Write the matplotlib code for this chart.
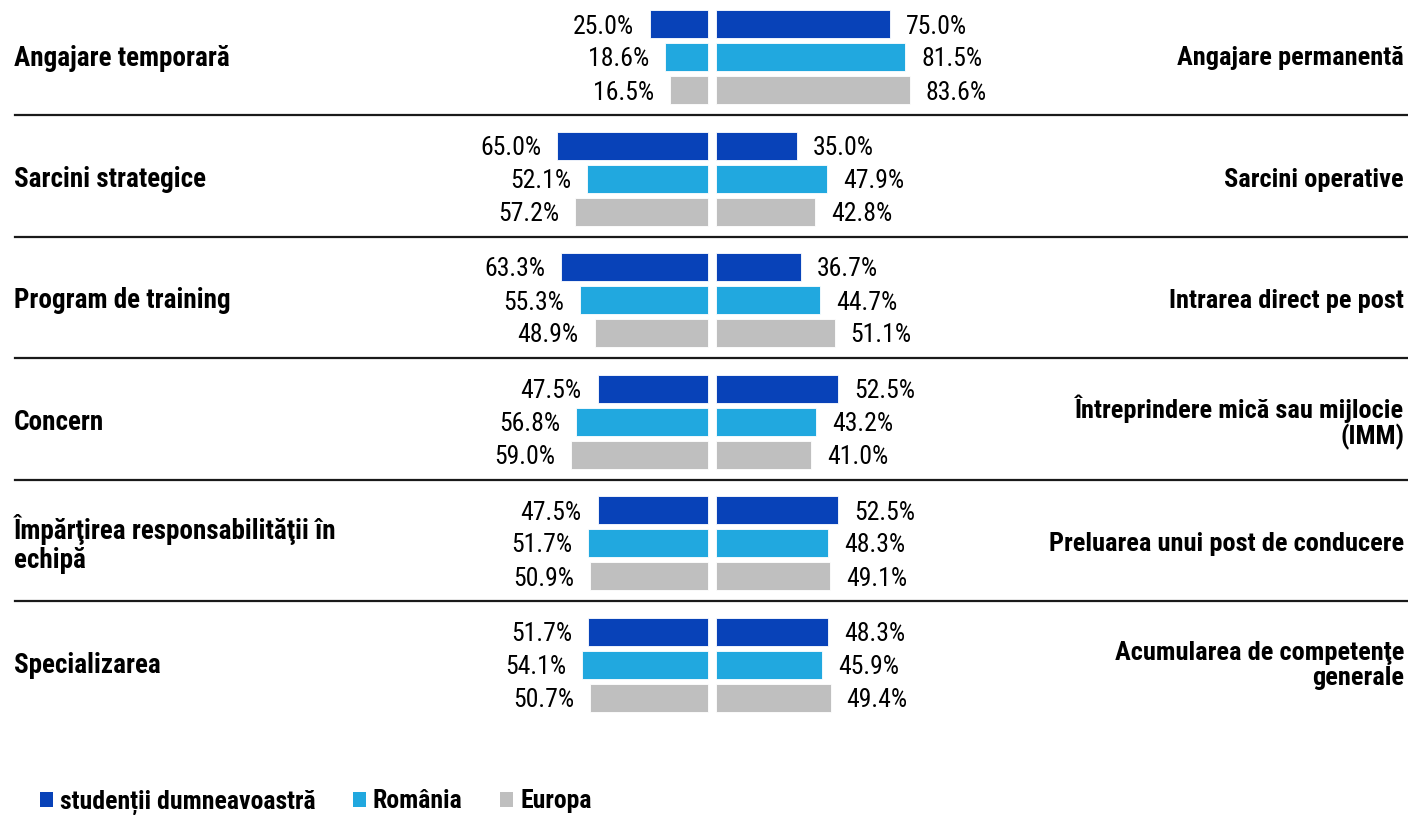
import matplotlib.pyplot as plt
from matplotlib.patches import Patch
import numpy as np

plt.rcParams['font.family'] = ['Roboto Condensed', 'DejaVu Sans']

# DATA
left_labels = ["Angajare temporară", "Sarcini strategice", "Program de training", "Concern",
               "Împărţirea responsabilităţii în\nechipă", "Specializarea"]
right_labels = ["Angajare permanentă", "Sarcini operative", "Intrarea direct pe post",
                "Întreprindere mică sau mijlocie\n(IMM)", "Preluarea unui post de conducere",
                "Acumularea de competenţe\ngenerale"]
series = ["studenții dumneavoastră", "România", "Europa"]
left_vals = [
    [25.0, 65.0, 63.3, 47.5, 47.5, 51.7],  # studentii
    [18.6, 52.1, 55.3, 56.8, 51.7, 54.1],  # Romania
    [16.5, 57.2, 48.9, 59.0, 50.9, 50.7],  # Europa
]
right_vals = [
    [75.0, 35.0, 36.7, 52.5, 52.5, 48.3],
    [81.5, 47.9, 44.7, 43.2, 48.3, 45.9],
    [83.6, 42.8, 51.1, 41.0, 49.1, 49.4],
]
colors = ['#0842B8', '#21A8DF', '#BFBFBF']

# layout (x in percent, y in pixels from top)
W, H = 1408, 815
ppu = 2.32            # pixels per percent
xc = 712              # center pixel
gap = 4 / ppu
x0 = -xc / ppu
x1 = (W - xc) / ppu
group_step = 121.5
bar_step = 33
first = 24
bar_h = 28

fig = plt.figure(figsize=(W / 100, H / 100), dpi=100)
ax = fig.add_axes([0, 0, 1, 1])
ax.set_xlim(x0, x1)
ax.set_ylim(H, 0)
ax.axis('off')

def px(p):
    return x0 + p / ppu

n = len(left_labels)
for g in range(n):
    for s in range(3):
        y = first + g * group_step + s * bar_step
        lv = left_vals[s][g]
        rv = right_vals[s][g]
        ax.barh(y, -lv, left=-gap, height=bar_h, color=colors[s], edgecolor='white', linewidth=0.6)
        ax.barh(y, rv, left=gap, height=bar_h, color=colors[s], edgecolor='white', linewidth=0.6)
        ax.text(-gap - lv - 16 / ppu, y + 2.5, f"{lv:.1f}%", ha='right', va='center', fontsize=18.5)
        ax.text(gap + rv + 16 / ppu, y + 2.5, f"{rv:.1f}%", ha='left', va='center', fontsize=18.5)
    yc = first + g * group_step + bar_step
    ax.text(px(14), yc + 1, left_labels[g], ha='left', va='center', fontsize=19.5,
            fontweight='bold', linespacing=1.05)
    ax.text(px(1404), yc + 1, right_labels[g], ha='right', va='center', fontsize=19,
            fontweight='bold', linespacing=1.05)
    if g < n - 1:
        ys = yc + 58
        ax.plot([px(15), px(1408)], [ys, ys], color='#1a1a1a', lw=1.6)

handles = [Patch(facecolor=c, edgecolor='none') for c in colors]
fig.legend(handles, series, loc='center left', bbox_to_anchor=(40 / W, 1 - 802 / H), ncol=3,
           frameon=False, prop={'size': 18.5, 'weight': 'bold'}, handlelength=0.5, handleheight=0.5,
           handletextpad=0.28, columnspacing=1.45, borderpad=0, borderaxespad=0)

fig.savefig('out.png', dpi=100)
